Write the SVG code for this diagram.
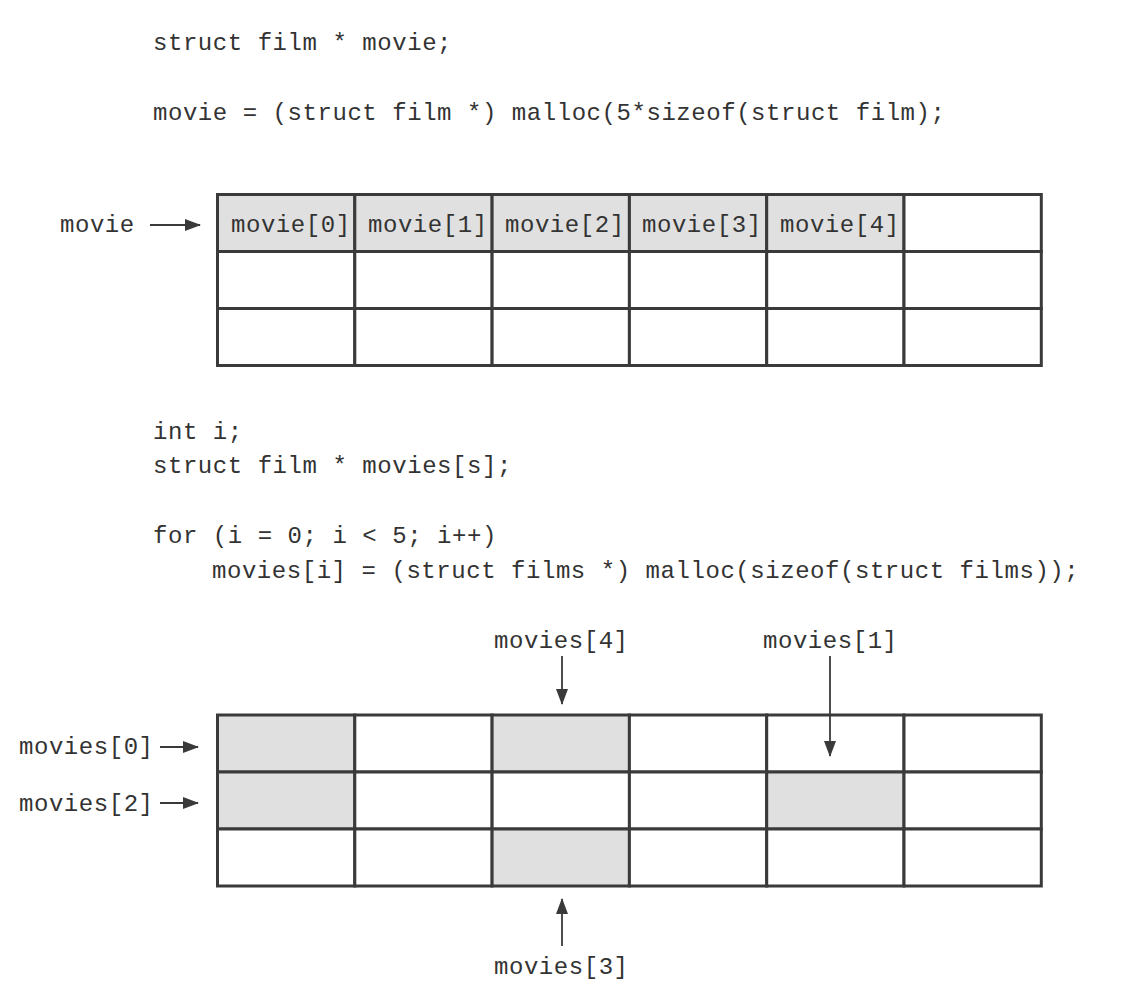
<svg xmlns="http://www.w3.org/2000/svg" width="1136" height="1007" viewBox="0 0 1136 1007">
  <style>
    .code { font-family: "Liberation Mono", "Courier New", monospace; font-size: 24px; letter-spacing: 0.55px; fill: #333333; }
    .cell { stroke: #3a3a3a; stroke-width: 3; fill: #ffffff; }
    .cell.used { fill: #e0e0e0; }
    .arrow { stroke: #3a3a3a; stroke-width: 1.8; fill: none; marker-end: url(#head); }
  </style>
  <defs>
    <marker id="head" viewBox="0 0 16 12" refX="15" refY="6" markerWidth="16" markerHeight="12" markerUnits="userSpaceOnUse" orient="auto">
      <path d="M0,0 L16,6 L0,12 Z" fill="#3a3a3a"/>
    </marker>
  </defs>
  <rect width="1136" height="1007" fill="#ffffff"/>

  <!-- contiguous allocation -->
  <g id="code-contiguous">
    <text class="code" x="153" y="50">struct film * movie;</text>
    <text class="code" x="153" y="120">movie = (struct film *) malloc(5*sizeof(struct film);</text>
  </g>

  <g id="block-contiguous">
    <!-- row 0 -->
    <rect class="cell used" x="217.5" y="194.5" width="137.3" height="57"/>
    <rect class="cell used" x="354.8" y="194.5" width="137.3" height="57"/>
    <rect class="cell used" x="492.1" y="194.5" width="137.3" height="57"/>
    <rect class="cell used" x="629.4" y="194.5" width="137.3" height="57"/>
    <rect class="cell used" x="766.7" y="194.5" width="137.3" height="57"/>
    <rect class="cell" x="904" y="194.5" width="137.3" height="57"/>
    <!-- row 1 -->
    <rect class="cell" x="217.5" y="251.5" width="137.3" height="57"/>
    <rect class="cell" x="354.8" y="251.5" width="137.3" height="57"/>
    <rect class="cell" x="492.1" y="251.5" width="137.3" height="57"/>
    <rect class="cell" x="629.4" y="251.5" width="137.3" height="57"/>
    <rect class="cell" x="766.7" y="251.5" width="137.3" height="57"/>
    <rect class="cell" x="904" y="251.5" width="137.3" height="57"/>
    <!-- row 2 -->
    <rect class="cell" x="217.5" y="308.5" width="137.3" height="57"/>
    <rect class="cell" x="354.8" y="308.5" width="137.3" height="57"/>
    <rect class="cell" x="492.1" y="308.5" width="137.3" height="57"/>
    <rect class="cell" x="629.4" y="308.5" width="137.3" height="57"/>
    <rect class="cell" x="766.7" y="308.5" width="137.3" height="57"/>
    <rect class="cell" x="904" y="308.5" width="137.3" height="57"/>
    <text class="code" x="231" y="232">movie[0]</text>
    <text class="code" x="368" y="232">movie[1]</text>
    <text class="code" x="505" y="232">movie[2]</text>
    <text class="code" x="642" y="232">movie[3]</text>
    <text class="code" x="780" y="232">movie[4]</text>
  </g>

  <g id="label-movie">
    <text class="code" x="60" y="232">movie</text>
  </g>

  <!-- scattered allocation -->
  <g id="code-scattered">
    <text class="code" x="153" y="439">int i;</text>
    <text class="code" x="153" y="473">struct film * movies[s];</text>
    <text class="code" x="153" y="543">for (i = 0; i &lt; 5; i++)</text>
    <text class="code" x="212" y="578">movies[i] = (struct films *) malloc(sizeof(struct films));</text>
  </g>

  <g id="block-scattered">
    <!-- row 0 -->
    <rect class="cell used" x="217.5" y="715" width="137.3" height="57"/>
    <rect class="cell" x="354.8" y="715" width="137.3" height="57"/>
    <rect class="cell used" x="492.1" y="715" width="137.3" height="57"/>
    <rect class="cell" x="629.4" y="715" width="137.3" height="57"/>
    <rect class="cell" x="766.7" y="715" width="137.3" height="57"/>
    <rect class="cell" x="904" y="715" width="137.3" height="57"/>
    <!-- row 1 -->
    <rect class="cell used" x="217.5" y="772" width="137.3" height="57"/>
    <rect class="cell" x="354.8" y="772" width="137.3" height="57"/>
    <rect class="cell" x="492.1" y="772" width="137.3" height="57"/>
    <rect class="cell" x="629.4" y="772" width="137.3" height="57"/>
    <rect class="cell used" x="766.7" y="772" width="137.3" height="57"/>
    <rect class="cell" x="904" y="772" width="137.3" height="57"/>
    <!-- row 2 -->
    <rect class="cell" x="217.5" y="829" width="137.3" height="57"/>
    <rect class="cell" x="354.8" y="829" width="137.3" height="57"/>
    <rect class="cell used" x="492.1" y="829" width="137.3" height="57"/>
    <rect class="cell" x="629.4" y="829" width="137.3" height="57"/>
    <rect class="cell" x="766.7" y="829" width="137.3" height="57"/>
    <rect class="cell" x="904" y="829" width="137.3" height="57"/>
  </g>

  <g id="label-movies0"><text class="code" x="19" y="754">movies[0]</text></g>
  <g id="label-movies2"><text class="code" x="19" y="811">movies[2]</text></g>
  <g id="label-movies4"><text class="code" x="494" y="648">movies[4]</text></g>
  <g id="label-movies1"><text class="code" x="763" y="648">movies[1]</text></g>
  <g id="label-movies3"><text class="code" x="494" y="974">movies[3]</text></g>

  <g id="connectors">
    <line class="arrow" x1="150" y1="225" x2="200" y2="225"/>
    <line class="arrow" x1="160" y1="747" x2="198" y2="747"/>
    <line class="arrow" x1="160" y1="803" x2="198" y2="803"/>
    <line class="arrow" x1="562" y1="656" x2="562" y2="704"/>
    <line class="arrow" x1="830" y1="656" x2="830" y2="756"/>
    <line class="arrow" x1="562" y1="946" x2="562" y2="899"/>
  </g>
</svg>
